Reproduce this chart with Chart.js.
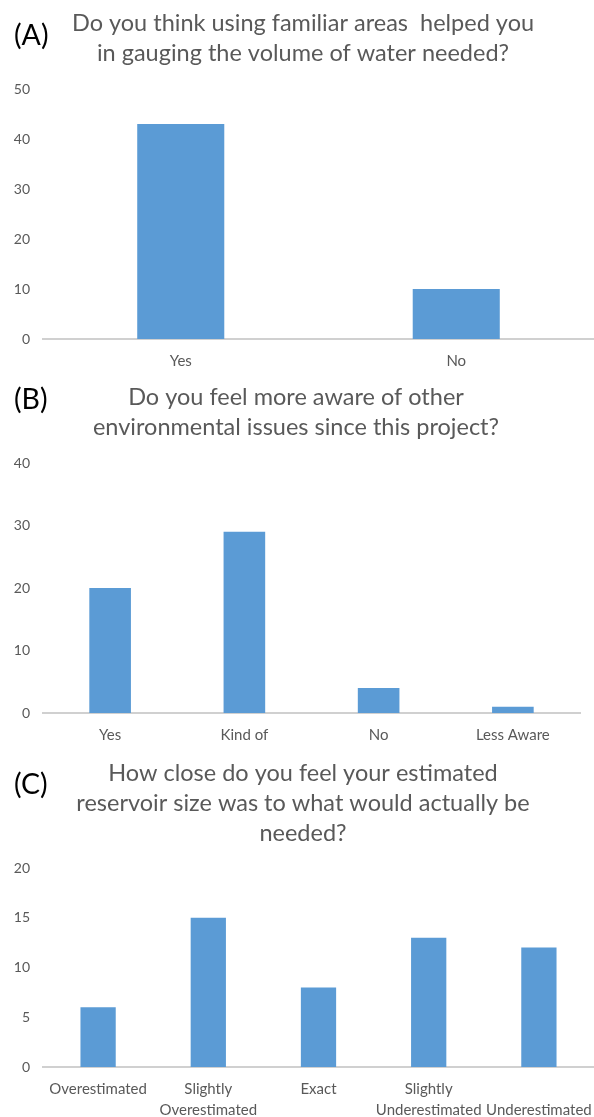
<!DOCTYPE html>
<html>
<head>
<meta charset="utf-8">
<title>Survey responses</title>
<script src="https://cdn.jsdelivr.net/npm/chart.js@4.4.1/dist/chart.umd.min.js"></script>
<style>
  html, body { margin: 0; padding: 0; background: #ffffff; }
  body { position: relative; width: 594px; height: 1117px; overflow: hidden; }
  .panel { position: absolute; left: 0; width: 594px; }
  .panel canvas { position: absolute; left: 0; top: 0; }
  .tag {
    position: absolute; left: 14px;
    font-family: Lato, "Noto Sans", sans-serif;
    font-size: 28.5px; line-height: 1; color: #000000;
  }
</style>
</head>
<body>
  <div class="panel" style="top:0px;height:382px;">
    <canvas id="chartA" width="594" height="382"></canvas>
    <div class="tag" style="top:20px;">(A)</div>
  </div>
  <div class="panel" style="top:382px;height:368px;">
    <canvas id="chartB" width="594" height="368"></canvas>
    <div class="tag" style="top:2px;">(B)</div>
  </div>
  <div class="panel" style="top:750px;height:367px;">
    <canvas id="chartC" width="594" height="367"></canvas>
    <div class="tag" style="top:19px;">(C)</div>
  </div>

<script>
// ---- Survey data ----
const titleA = ['Do you think using familiar areas  helped you', 'in gauging the volume of water needed?'];
const categoriesA = ['Yes', 'No'];
const responsesA = [43, 10];
const axisMaxA = 50;
const axisStepA = 10;

const titleB = ['Do you feel more aware of other', 'environmental issues since this project?'];
const categoriesB = ['Yes', 'Kind of', 'No', 'Less Aware'];
const responsesB = [20, 29, 4, 1];
const axisMaxB = 40;
const axisStepB = 10;

const titleC = ['How close do you feel your estimated', 'reservoir size was to what would actually be', 'needed?'];
const categoriesC = ['Overestimated', ['Slightly', 'Overestimated'], 'Exact', ['Slightly', 'Underestimated'], ['', 'Underestimated']];
const responsesC = [6, 15, 8, 13, 12];
const axisMaxC = 20;
const axisStepC = 5;

// ---- Shared look ----
const FONT = 'Lato, "Noto Sans", sans-serif';
const TEXT_GREY = '#595959';
const BAR_BLUE = '#5b9bd5';
const AXIS_GREY = '#d0d0d0';

function makeSurveyChart(canvasId, spec) {
  return new Chart(document.getElementById(canvasId), {
    type: 'bar',
    data: {
      labels: spec.labels,
      datasets: [{
        data: spec.values,
        backgroundColor: BAR_BLUE,
        borderWidth: 0,
        categoryPercentage: 1,
        barPercentage: spec.barPct
      }]
    },
    options: {
      responsive: false,
      animation: false,
      devicePixelRatio: 1,
      events: [],
      layout: { padding: spec.padding },
      plugins: {
        legend: { display: false },
        tooltip: { enabled: false },
        title: {
          display: true,
          text: spec.title,
          color: TEXT_GREY,
          font: { family: FONT, size: 23.5, weight: 'normal', lineHeight: '30px' },
          padding: spec.titlePadding
        }
      },
      scales: {
        x: {
          // grid hidden, but the tick length still spaces the labels below the axis
          grid: { display: false, drawTicks: true, tickLength: 11.5 },
          border: { display: true, color: AXIS_GREY, width: 2 },
          ticks: {
            color: TEXT_GREY,
            font: { family: FONT, size: 15, lineHeight: '21px' },
            padding: 0,
            maxRotation: 0,
            autoSkip: false
          },
          afterFit: (scale) => { scale.height = spec.xAxisHeight; }
        },
        y: {
          min: 0,
          max: spec.max,
          grid: { display: false, drawTicks: false },
          border: { display: false },
          ticks: {
            stepSize: spec.step,
            color: TEXT_GREY,
            font: { family: FONT, size: 14 },
            padding: 13
          },
          afterFit: (scale) => { scale.width = spec.yAxisWidth; }
        }
      }
    }
  });
}

makeSurveyChart('chartA', {
  labels: categoriesA, values: responsesA, title: titleA,
  max: axisMaxA, step: axisStepA, barPct: 0.316,
  padding: { left: 12, right: 0, top: 0, bottom: 0 },
  titlePadding: { top: 8, bottom: 21 },
  yAxisWidth: 31, xAxisHeight: 43
});

makeSurveyChart('chartB', {
  labels: categoriesB, values: responsesB, title: titleB,
  max: axisMaxB, step: axisStepB, barPct: 0.31,
  padding: { left: 12, right: 14, top: 0, bottom: 0 },
  titlePadding: { top: 0, bottom: 21 },
  yAxisWidth: 31, xAxisHeight: 37
});

makeSurveyChart('chartC', {
  labels: categoriesC, values: responsesC, title: titleC,
  max: axisMaxC, step: axisStepC, barPct: 0.32,
  padding: { left: 12, right: 0, top: 0, bottom: 0 },
  titlePadding: { top: 8, bottom: 20 },
  yAxisWidth: 31, xAxisHeight: 50
});
</script>
</body>
</html>
